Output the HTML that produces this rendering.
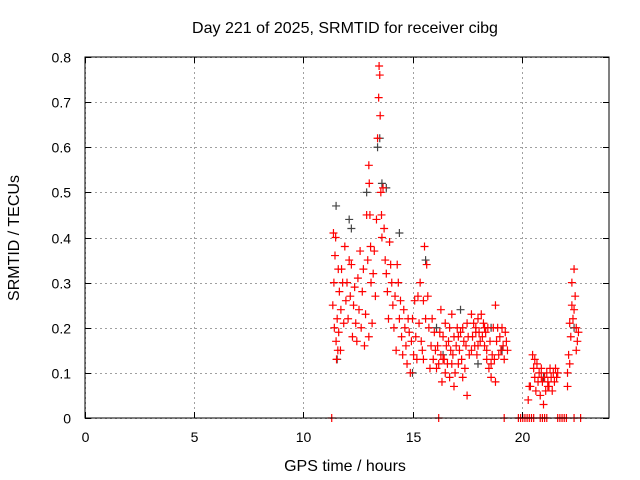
<!DOCTYPE html>
<html><head><meta charset="utf-8"><style>
body{margin:0;background:#fff;}
svg{display:block;font-family:"Liberation Sans",sans-serif;}
</style></head><body>
<svg id="chart" width="640" height="480" viewBox="0 0 640 480">
<rect width="640" height="480" fill="#fff"/>
<text x="345" y="33" font-size="16" text-anchor="middle">Day 221 of 2025, SRMTID for receiver cibg</text>
<text x="345" y="471" font-size="16" text-anchor="middle">GPS time / hours</text>
<text x="19" y="238" font-size="16" text-anchor="middle" transform="rotate(-90 19 238)">SRMTID / TECUs</text>
<g id="grid"></g>
<g id="black"></g>
<g id="red"></g>
<rect x="85" y="57" width="524" height="361" fill="none" stroke="#000" stroke-width="1"/>
<g id="ticks"></g>
</svg>
<script>
const xTicks=[0,5,10,15,20];
const yTicks=[0,0.1,0.2,0.3,0.4,0.5,0.6,0.7,0.8];
const yTickLabels=["0","0.1","0.2","0.3","0.4","0.5","0.6","0.7","0.8"];
const redHours=[
11.35,11.38,11.4,11.42,11.45,11.48,11.5,11.52,11.55,11.58,
11.6,11.62,11.65,11.7,11.72,11.75,11.8,11.85,11.9,11.95,
12.0,12.05,12.1,12.15,12.2,12.25,12.3,12.35,12.4,12.45,
12.5,12.55,12.6,12.65,12.7,12.75,12.8,12.85,12.9,12.95,
13.0,13.02,13.05,13.08,13.1,13.15,13.2,13.25,13.3,13.0,
13.35,13.4,13.45,13.47,13.5,13.52,13.55,13.58,13.6,13.65,
13.7,13.75,13.8,13.85,13.9,13.95,14.0,14.05,14.1,14.15,
14.2,14.25,14.3,14.35,14.4,14.45,14.5,14.55,14.6,14.65,
14.7,14.75,14.8,14.85,14.9,14.95,15.0,15.05,15.1,15.15,
15.2,15.25,15.3,15.35,15.4,15.45,15.5,15.55,15.6,15.65,
15.7,15.75,15.8,15.85,15.9,15.95,16.0,16.05,16.1,15.5,
16.15,16.2,16.25,16.3,16.35,16.4,16.45,16.5,16.55,16.6,
16.65,16.7,16.75,16.8,16.85,16.9,16.95,17.0,17.05,17.1,
17.15,17.2,17.25,17.3,17.35,17.4,17.45,17.5,17.55,17.6,
16.3,16.5,16.7,16.9,17.1,17.3,17.5,17.7,16.4,16.8,
17.7,17.75,17.8,17.85,17.9,17.95,18.0,18.05,18.1,18.15,
18.2,18.25,18.3,18.35,18.4,18.45,18.5,18.55,18.6,18.65,
18.7,18.75,18.8,18.85,18.9,18.95,19.0,19.05,19.1,19.15,
19.2,19.25,19.3,19.35,18.0,18.3,18.6,18.8,17.9,18.4,
20.3,20.35,20.4,20.5,20.55,20.6,20.65,20.7,20.75,20.8,
20.85,20.9,20.95,21.0,21.05,21.1,21.15,21.2,21.25,21.3,
21.35,21.4,21.45,21.5,21.55,21.6,21.65,20.6,20.9,21.2,
22.1,22.15,22.2,22.25,22.3,22.35,22.4,22.45,22.5,22.55,
22.6,22.2,22.3,22.4,22.5,22.1,
11.3,16.2,19.2,19.85,19.95,20.05,20.15,20.25,20.35,20.45,
20.55,20.85,20.95,21.05,21.15,21.65,21.75,21.85,21.95,22.05,
22.4,22.7];
const redValues=[
0.25,0.41,0.3,0.2,0.36,0.4,0.17,0.13,0.22,0.15,
0.33,0.19,0.28,0.15,0.24,0.33,0.3,0.21,0.38,0.26,
0.3,0.22,0.35,0.27,0.34,0.18,0.25,0.29,0.21,0.17,
0.31,0.24,0.37,0.2,0.28,0.33,0.16,0.23,0.45,0.35,
0.56,0.52,0.45,0.38,0.3,0.21,0.32,0.37,0.27,0.18,
0.44,0.62,0.71,0.78,0.76,0.67,0.5,0.45,0.4,0.51,
0.42,0.35,0.32,0.28,0.22,0.39,0.34,0.3,0.25,0.2,
0.27,0.15,0.34,0.3,0.22,0.26,0.18,0.14,0.24,0.2,
0.16,0.12,0.22,0.19,0.1,0.17,0.22,0.14,0.26,0.18,
0.13,0.27,0.21,0.3,0.17,0.15,0.13,0.38,0.22,0.34,
0.27,0.2,0.11,0.16,0.22,0.13,0.19,0.15,0.11,0.26,
0.16,0.12,0.19,0.14,0.08,0.18,0.13,0.21,0.16,0.12,
0.17,0.09,0.15,0.23,0.14,0.18,0.1,0.16,0.2,0.12,
0.15,0.19,0.13,0.2,0.17,0.11,0.16,0.05,0.18,0.14,
0.24,0.1,0.2,0.07,0.18,0.09,0.21,0.15,0.13,0.12,
0.23,0.18,0.21,0.16,0.2,0.14,0.22,0.19,0.17,0.23,
0.18,0.21,0.16,0.19,0.13,0.2,0.11,0.17,0.09,0.14,
0.2,0.13,0.25,0.17,0.2,0.14,0.18,0.15,0.2,0.16,
0.13,0.19,0.17,0.15,0.16,0.2,0.12,0.08,0.19,0.15,
0.04,0.07,0.07,0.14,0.11,0.09,0.06,0.12,0.08,0.1,
0.05,0.11,0.08,0.03,0.09,0.06,0.1,0.08,0.07,0.11,
0.09,0.06,0.1,0.08,0.11,0.09,0.1,0.13,0.09,0.07,
0.1,0.14,0.21,0.18,0.25,0.22,0.33,0.27,0.2,0.17,
0.19,0.12,0.3,0.24,0.15,0.07,
0,0,0,0,0,0,0,0,0,0,
0,0,0,0,0,0,0,0,0,0,
0,0];
const blackHours=[11.5,11.55,12.1,12.2,12.9,13.4,13.5,13.6,13.8,14.4,15.0,15.6,16.1,16.4,17.2,18.0,18.6,19.1,21.0,22.4];
const blackValues=[0.47,0.13,0.44,0.42,0.5,0.6,0.62,0.52,0.51,0.41,0.1,0.35,0.2,0.14,0.24,0.12,0.2,0.15,0.09,0.2];

const X0=85,X1=609,Y0=418,Y1=57;
const xs=h=>X0+(h/24)*(X1-X0);
const ys=v=>Y0-(v/0.8)*(Y0-Y1);
const NS="http://www.w3.org/2000/svg";
const grid=document.getElementById('grid'),ticks=document.getElementById('ticks');
function ln(p,x1,y1,x2,y2,st,dash){const l=document.createElementNS(NS,'line');l.setAttribute('x1',x1);l.setAttribute('y1',y1);l.setAttribute('x2',x2);l.setAttribute('y2',y2);l.setAttribute('stroke',st);l.setAttribute('stroke-width',1);if(dash)l.setAttribute('stroke-dasharray',dash);p.appendChild(l);return l;}
xTicks.forEach(t=>{const x=Math.round(xs(t))+0.5;
 const g=ln(grid,x,Y1,x,Y0,'#a0a0a0','2,3');
 
 
 ln(ticks,x,Y0,x,Y0-6,'#000');ln(ticks,x,Y1,x,Y1+6,'#000');
 const tx=document.createElementNS(NS,'text');tx.setAttribute('x',x);tx.setAttribute('y',Y0+24);tx.setAttribute('font-size','14');tx.setAttribute('text-anchor','middle');tx.textContent=t;
 
 
 ticks.appendChild(tx);});
yTicks.forEach((t,i)=>{const y=Math.round(ys(t))+0.5;
 const g=ln(grid,X0,y,X1,y,'#a0a0a0','2,3');
 
 
 ln(ticks,X0,y,X0+6,y,'#000');ln(ticks,X1,y,X1-6,y,'#000');
 const tx=document.createElementNS(NS,'text');tx.setAttribute('x',X0-14);tx.setAttribute('y',y+5);tx.setAttribute('font-size','14');tx.setAttribute('text-anchor','end');tx.textContent=yTickLabels[i];
 
 
 ticks.appendChild(tx);});
function plus(p,h,v,c){const x=xs(h),y=ys(v);const pa=document.createElementNS(NS,'path');
 pa.setAttribute('d',`M${x-4} ${y}H${x+4}M${x} ${y-4}V${y+4}`);pa.setAttribute('stroke',c);pa.setAttribute('stroke-width','1.2');
 
 
 p.appendChild(pa);}
const bl=document.getElementById('black'),rd=document.getElementById('red');
blackHours.forEach((h,i)=>plus(bl,h,blackValues[i],'#444'));
redHours.forEach((h,i)=>plus(rd,h,redValues[i],'#ff0000'));
</script>
</body></html>
